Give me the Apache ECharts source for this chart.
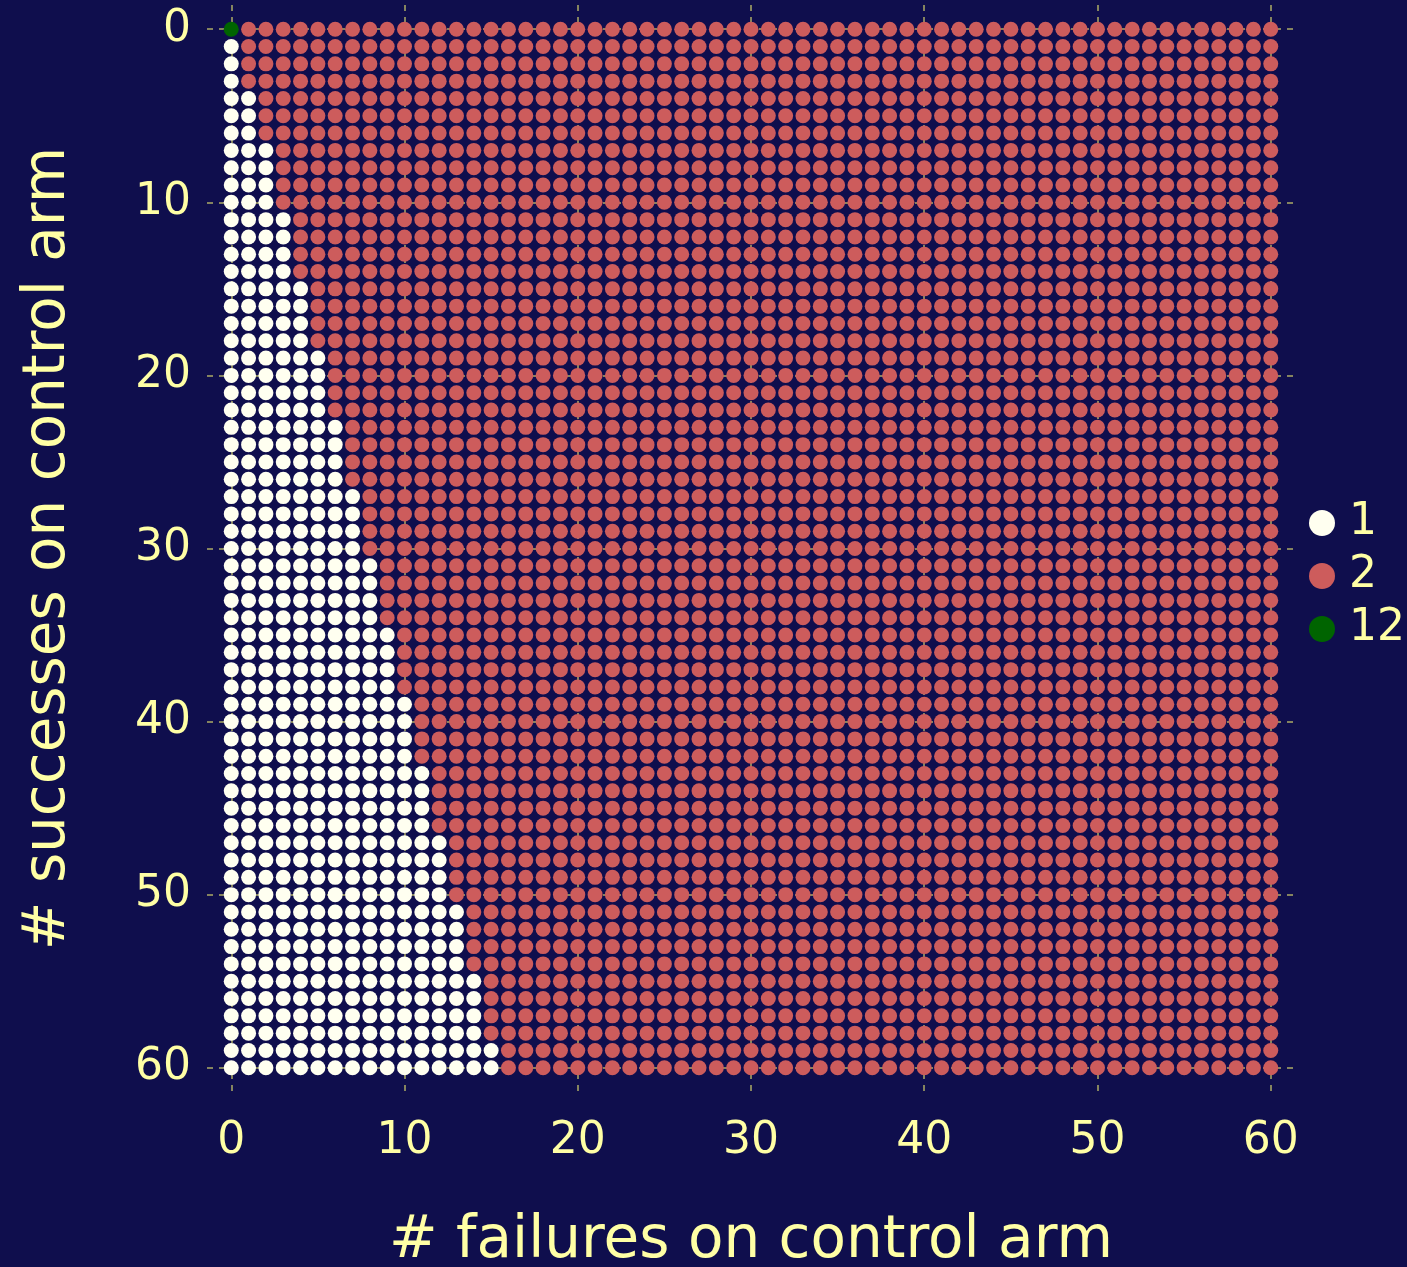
<!DOCTYPE html>
<html>
<head>
<meta charset="utf-8">
<title>Decision regions</title>
<script src="https://cdn.jsdelivr.net/npm/echarts@6/dist/echarts.min.js"></script>
<style>
  html, body { margin: 0; padding: 0; background: #0f0e4d; }
  #chart { width: 1407px; height: 1267px; }
</style>
</head>
<body>
<div id="chart"></div>
<script>
// Grid extent: failures (x) and successes (y) on the control arm
const failures = Array.from({ length: 61 }, (_, i) => i);
const successes = Array.from({ length: 61 }, (_, i) => i);

// For each successes row, the largest failures count that falls in group "1"
// (-1 means the row has no group-1 cell)
const groupOneMaxFailures = [
  -1,
  0, 0, 0,
  1, 1, 1,
  2, 2, 2, 2,
  3, 3, 3, 3,
  4, 4, 4, 4,
  5, 5, 5, 5,
  6, 6, 6, 6,
  7, 7, 7, 7,
  8, 8, 8, 8,
  9, 9, 9, 9,
  10, 10, 10, 10,
  11, 11, 11, 11,
  12, 12, 12, 12,
  13, 13, 13, 13,
  14, 14, 14, 14,
  15, 15
];

// Cells assigned to group "12" as [failures, successes]
const groupTwelveCells = [[0, 0]];

const groupNames = ['1', '2', '12'];
const groupColors = ['#fffff0', '#cd5c5c', '#006400'];
const tickValues = [0, 10, 20, 30, 40, 50, 60];

const textColor = '#ffffa5';
const fontFamily = 'DejaVu Sans';

// Assign every cell to one group
const byGroup = { '1': [], '2': [], '12': [] };
const isTwelve = (x, y) => groupTwelveCells.some(c => c[0] === x && c[1] === y);
successes.forEach((y, row) => {
  failures.forEach(x => {
    if (isTwelve(x, y)) byGroup['12'].push([x, y]);
    else if (x <= groupOneMaxFailures[row]) byGroup['1'].push([x, y]);
    else byGroup['2'].push([x, y]);
  });
});

const chart = echarts.init(document.getElementById('chart'), null, { renderer: 'canvas' });

const gridLine = { show: true, lineStyle: { color: '#85845f', width: 2, type: [6, 6] } };

chart.setOption({
  backgroundColor: '#0f0e4d',
  animation: false,
  grid: { left: 207, right: 112, top: 5, bottom: 175, containLabel: false, outerBoundsMode: 'none' },
  xAxis: {
    type: 'value',
    min: -1.4,
    max: 61.4,
    name: '# failures on control arm',
    nameLocation: 'middle',
    nameGap: 121,
    nameTextStyle: { color: textColor, fontFamily, fontSize: 58 },
    axisLine: { show: false },
    axisTick: { show: false, customValues: tickValues },
    splitLine: gridLine,
    axisLabel: { customValues: tickValues, color: textColor, fontFamily, fontSize: 44, margin: 28 }
  },
  yAxis: {
    type: 'value',
    inverse: true,
    min: -1.4,
    max: 61.4,
    name: '# successes on control arm',
    nameLocation: 'middle',
    nameGap: 129,
    nameRotate: 90,
    nameTextStyle: { color: textColor, fontFamily, fontSize: 58 },
    axisLine: { show: false },
    axisTick: { show: false, customValues: tickValues },
    splitLine: gridLine,
    axisLabel: { customValues: tickValues, color: textColor, fontFamily, fontSize: 44, margin: 16 }
  },
  legend: {
    data: groupNames,
    orient: 'vertical',
    left: 1309,
    top: 501,
    padding: 0,
    icon: 'circle',
    itemWidth: 26,
    itemHeight: 26,
    itemGap: 9,
    itemStyle: { opacity: 1 },
    textStyle: { color: textColor, fontFamily, fontSize: 44, lineHeight: 44, padding: [0, 0, 0, 9] }
  },
  series: groupNames.map((name, i) => ({
    name,
    type: 'scatter',
    symbol: 'circle',
    symbolSize: 15,
    itemStyle: { color: groupColors[i], opacity: 1 },
    emphasis: { disabled: true },
    data: byGroup[name]
  }))
});
</script>
</body>
</html>
